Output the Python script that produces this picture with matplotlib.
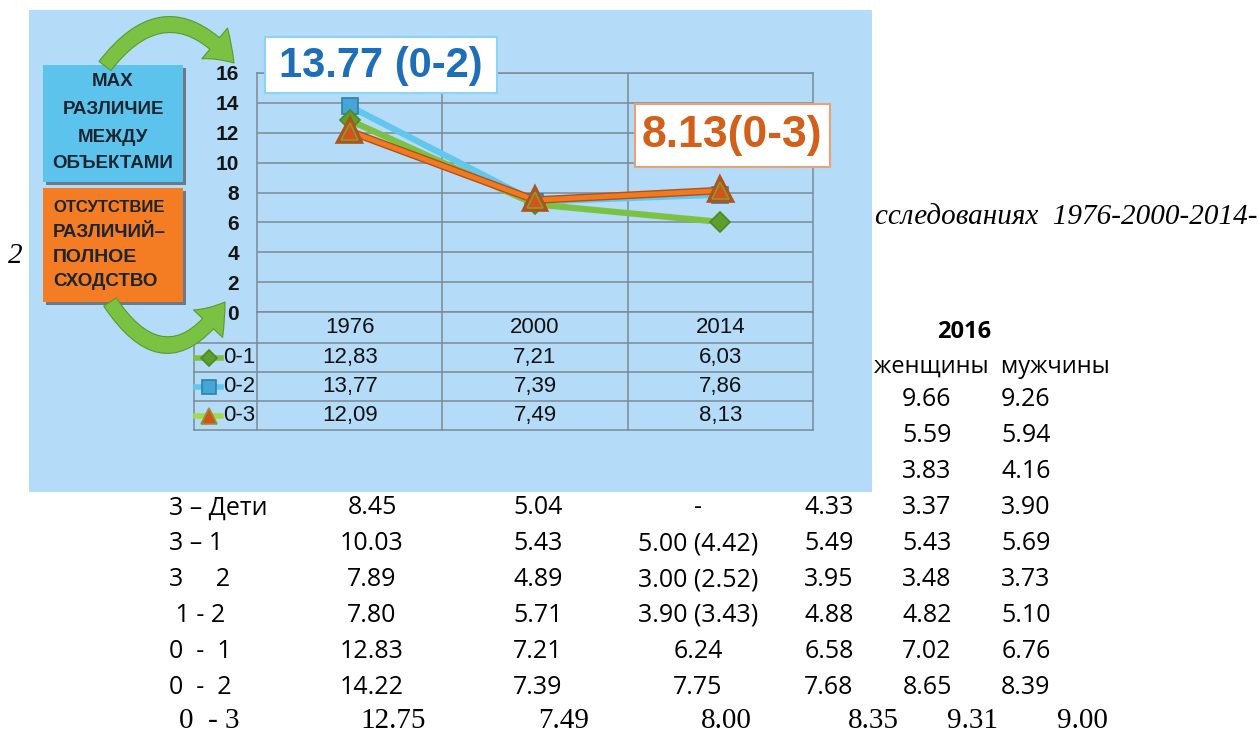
import numpy as np
import matplotlib.pyplot as plt
import matplotlib.patheffects as pe
from matplotlib.patches import Rectangle, FancyArrowPatch

# chart data (distances between objects)
years = ['1976', '2000', '2014']
pairs = ['0-1', '0-2', '0-3']
d01 = [12.83, 7.21, 6.03]
d02 = [13.77, 7.39, 7.86]
d03 = [12.09, 7.49, 8.13]

# document table under the picture
doc_labels = ['3 – Дети', '3 – 1', '3     2', ' 1 - 2', '0  -  1', '0  -  2']
doc_1976 = ['8.45', '10.03', '7.89', '7.80', '12.83', '14.22']
doc_2000 = ['5.04', '5.43', '4.89', '5.71', '7.21', '7.39']
doc_2014 = ['-', '5.00 (4.42)', '3.00 (2.52)', '3.90 (3.43)', '6.24', '7.75']
doc_mid = ['4.33', '5.49', '3.95', '4.88', '6.58', '7.68']
last_row = ['0  - 3', '12.75', '7.49', '8.00', '8.35', '9.31', '9.00']
women_2016 = ['9.66', '5.59', '3.83', '3.37', '5.43', '3.48', '4.82', '7.02', '8.65']
men_2016 = ['9.26', '5.94', '4.16', '3.90', '5.69', '3.73', '5.10', '6.76', '8.39']

W, H = 1259, 733
fig = plt.figure(figsize=(W / 100, H / 100), dpi=100)
fig.patch.set_facecolor('white')


def fx(x):
    return x / W


def fy(y):
    return 1 - y / H


def rect(x0, y0, x1, y1, **kw):
    r = Rectangle((fx(x0), fy(y1)), fx(x1) - fx(x0), fy(y0) - fy(y1),
                  transform=fig.transFigure, **kw)
    fig.add_artist(r)
    return r


SANS = ['Liberation Sans', 'DejaVu Sans']
CAL = ['Open Sans', 'DejaVu Sans']
SERIF = ['Liberation Serif', 'DejaVu Serif']
gridc = '#7d8a96'

# light blue slide panel
rect(29, 10, 872, 492, facecolor='#b4dbf7', edgecolor='none', zorder=-1)

# main axes
ax = fig.add_axes([fx(257), fy(312), fx(813) - fx(257), fy(73) - fy(312)])
ax.set_facecolor('none')
x = np.arange(len(years))
ax.set_xlim(-0.5, 2.5)
ax.set_ylim(0, 16)
ax.set_yticks(range(0, 17, 2))
ax.set_xticks([])
ax.yaxis.grid(True, color=gridc, lw=1.1)
for v in [0.5, 1.5]:
    ax.axvline(v, color=gridc, lw=1.1)
for s in ax.spines.values():
    s.set_color(gridc)
    s.set_linewidth(1.1)
ax.tick_params(axis='y', length=0, pad=13)
for lab in ax.get_yticklabels():
    lab.set_fontfamily(SANS)
    lab.set_fontweight('bold')
    lab.set_fontsize(15)
    lab.set_color('#151515')

ax.plot(x, d02, color='#62c6ee', lw=4.5, marker='s', ms=11, mfc='#45a5d5',
        mec='#2e7fae', mew=1.2, zorder=3, clip_on=False)
ax.plot(x, d01, color='#7cc242', lw=4.5, marker='D', ms=10, mfc='#5e9e2c',
        mec='#4a8a20', mew=1.2, zorder=4, clip_on=False)
ax.plot(x, d03, color='#f07a22', lw=3.5, marker='^', ms=12, mfc='#d4531a',
        mec='#8a9a30', mew=1.2, zorder=5, clip_on=False,
        path_effects=[pe.Stroke(linewidth=5.5, foreground='#b0521a'), pe.Normal()])

# data table under the axes: x in data units, y in axes fraction
tr = ax.get_xaxis_transform()
px_per_x = (813 - 257) / 3
head_h = 31 / 239
row_h = 29 / 239
lab_left = -0.5 - 63 / px_per_x
row_lines = [-head_h - k * row_h for k in range(len(pairs) + 1)]
y_bottom = row_lines[-1]
for v in [-0.5, 0.5, 1.5, 2.5]:
    ax.plot([v, v], [0, y_bottom], color=gridc, lw=1.1, transform=tr, clip_on=False)
ax.plot([lab_left, lab_left], [row_lines[0], y_bottom], color=gridc, lw=1.1,
        transform=tr, clip_on=False)
for yl in row_lines:
    ax.plot([lab_left, 2.5], [yl, yl], color=gridc, lw=1.1, transform=tr, clip_on=False)

for i, yr in enumerate(years):
    ax.text(i, -head_h / 2, yr, ha='center', va='center', fontsize=16,
            family=SANS, color='#111111', transform=tr)

key_style = [('#7cc242', 'D', '#5e9e2c', '#4a8a20', 8),
             ('#62c6ee', 's', '#45a5d5', '#2e7fae', 10),
             ('#a8d84a', '^', '#d4531a', '#8a9a30', 11)]
for k, (lab, series) in enumerate(zip(pairs, (d01, d02, d03))):
    yc = -head_h - (k + 0.5) * row_h
    for i, v in enumerate(series):
        ax.text(i, yc, f'{v:.2f}'.replace('.', ','), ha='center', va='center',
                fontsize=16, family=SANS, color='#111111', transform=tr)
    ax.text(-0.5 - 2 / px_per_x, yc, lab, ha='right', va='center', fontsize=16,
            family=SANS, color='#111111', transform=tr)
    lc, m, fc, ec, ms = key_style[k]
    ax.plot([-0.5 - 61 / px_per_x, -0.5 - 36 / px_per_x], [yc, yc], color=lc, lw=4,
            transform=tr, clip_on=False)
    ax.plot([-0.5 - 48 / px_per_x], [yc], marker=m, ms=ms, mfc=fc, mec=ec, mew=1.2,
            transform=tr, clip_on=False)

# callout boxes
rect(265, 37, 497, 93, facecolor='white', edgecolor='#8fd3f2', lw=1.5, zorder=6)
fig.text(fx(381), fy(66), '13.77 (0-2)', ha='center', va='center', fontsize=30,
         fontweight='bold', color='#1f6fb8', family=SANS, zorder=7)
rect(635, 104, 830, 167, facecolor='white', edgecolor='#eea070', lw=1.5, zorder=6)
fig.text(fx(732), fy(136), '8.13(0-3)', ha='center', va='center', fontsize=32,
         fontweight='bold', color='#d2601a', family=SANS, zorder=7)

# left side boxes
rect(46, 68, 186, 185, facecolor='#6c7a86', edgecolor='none', zorder=2)
rect(43, 65, 183, 182, facecolor='#5cc3ec', edgecolor='none', zorder=3)
for yy, t in zip([82, 110, 137, 163], ['MAX', 'РАЗЛИЧИЕ', 'МЕЖДУ', 'ОБЪЕКТАМИ']):
    fig.text(fx(113), fy(yy), t, ha='center', va='center', fontsize=13.5,
             fontweight='bold', color='#1c2430', family=SANS, zorder=4)
rect(46, 191, 186, 305, facecolor='#6c7a86', edgecolor='none', zorder=2)
rect(43, 188, 183, 302, facecolor='#f47c22', edgecolor='none', zorder=3)
for yy, t, fs in zip([207, 232, 257, 282],
                     ['ОТСУТСТВИЕ', 'РАЗЛИЧИЙ–', 'ПОЛНОЕ', 'СХОДСТВО'],
                     [12, 13.5, 14, 13.5]):
    fig.text(fx(53), fy(yy), t, ha='left', va='center', fontsize=fs,
             fontweight='bold', color='#1c2430', family=SANS, zorder=4)

# green curved arrows
arrow_kw = dict(transform=fig.transFigure, mutation_scale=18, shrinkA=0, shrinkB=0,
                arrowstyle='simple,head_length=1.1,head_width=1.6,tail_width=0.6',
                facecolor='#7cc242', edgecolor='#5a9a2c', lw=0.8, zorder=5)
fig.add_artist(FancyArrowPatch((fx(105), fy(66)), (fx(234), fy(63)),
                               connectionstyle='arc3,rad=-0.62', **arrow_kw))
fig.add_artist(FancyArrowPatch((fx(110), fy(302)), (fx(225), fy(302)),
                               connectionstyle='arc3,rad=0.75', **arrow_kw))

# surrounding document text
fig.text(fx(8), fy(256), '2', ha='left', va='center', fontsize=21, style='italic',
         family=SERIF)
fig.text(fx(875), fy(217), 'сследованиях  1976-2000-2014-', ha='left', va='center',
         fontsize=21, style='italic', family=SERIF)
fig.text(fx(964), fy(332), '2016', ha='center', va='center', fontsize=17,
         fontweight='bold', family=CAL)
fig.text(fx(874), fy(367), 'женщины  мужчины', ha='left', va='center', fontsize=17,
         family=CAL)

row_y = [400, 436, 472, 508, 544, 580, 615, 652, 687]
for yy, w, m in zip(row_y, women_2016, men_2016):
    fig.text(fx(927), fy(yy), w, ha='center', va='center', fontsize=18, family=CAL)
    fig.text(fx(1026), fy(yy), m, ha='center', va='center', fontsize=18, family=CAL)

for yy, lab, a, b, c, d in zip(row_y[3:], doc_labels, doc_1976, doc_2000, doc_2014, doc_mid):
    fig.text(fx(169), fy(yy), lab, ha='left', va='center', fontsize=18, family=CAL)
    for xc, t in zip([372, 538, 698, 829], [a, b, c, d]):
        fig.text(fx(xc), fy(yy), t, ha='center', va='center', fontsize=18, family=CAL)

for xc, t in zip([209, 393, 564, 726, 873, 973, 1082], last_row):
    fig.text(fx(xc), fy(721), t, ha='center', va='center', fontsize=21, family=SERIF)

fig.savefig('out.png', dpi=100)
